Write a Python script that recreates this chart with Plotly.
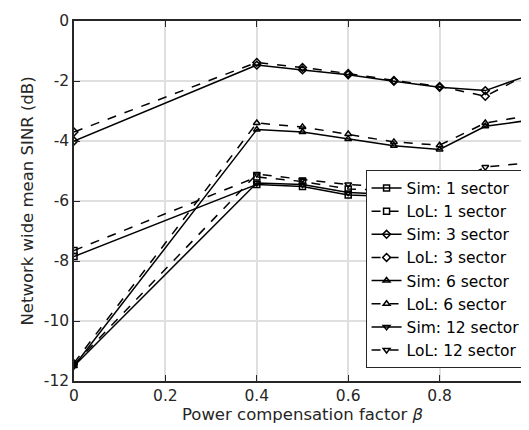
import plotly.graph_objects as go

beta = [0, 0.4, 0.5, 0.6, 0.7, 0.8, 0.9, 1.0]

sim_1 = [-7.85, -5.45, -5.52, -5.8, -5.85, -5.9, -5.5, -5.3]
lol_1 = [-7.65, -5.2, -5.35, -5.6, -5.65, -5.7, -5.3, -5.22]
sim_3 = [-4.0, -1.47, -1.63, -1.79, -2.01, -2.21, -2.32, -1.78]
lol_3 = [-3.7, -1.38, -1.55, -1.75, -1.98, -2.18, -2.51, -1.72]
sim_6 = [-11.5, -3.62, -3.7, -3.93, -4.16, -4.28, -3.51, -3.3]
lol_6 = [-11.4, -3.4, -3.53, -3.77, -4.03, -4.14, -3.4, -3.14]
sim_12 = [-11.5, -5.4, -5.45, -5.72, -5.78, -5.85, -5.12, -5.05]
lol_12 = [-11.45, -5.1, -5.28, -5.45, -5.55, -5.65, -4.87, -4.72]

series = [
    ("Sim: 1 sector", sim_1, "square-open", "solid"),
    ("LoL: 1 sector", lol_1, "square-open", "dash"),
    ("Sim: 3 sector", sim_3, "diamond-open", "solid"),
    ("LoL: 3 sector", lol_3, "diamond-open", "dash"),
    ("Sim: 6 sector", sim_6, "triangle-up-open", "solid"),
    ("LoL: 6 sector", lol_6, "triangle-up-open", "dash"),
    ("Sim: 12 sector", sim_12, "triangle-down-open", "solid"),
    ("LoL: 12 sector", lol_12, "triangle-down-open", "dash"),
]

xticks = [0, 0.2, 0.4, 0.6, 0.8, 1]
xticktext = ["0", "0.2", "0.4", "0.6", "0.8", "1"]
yticks = [0, -2, -4, -6, -8, -10, -12]
yticktext = ["0", "-2", "-4", "-6", "-8", "-10", "-12"]

FONT = "DejaVu Sans, sans-serif"
fig = go.Figure()
for name, vals, sym, dash in series:
    fig.add_trace(go.Scatter(
        x=beta, y=vals, name=name, mode="lines+markers",
        line=dict(color="black", width=1.5, dash=dash),
        marker=dict(symbol=sym, size=6, color="black", line=dict(width=1.5, color="black")),
    ))

axis_common = dict(
    showline=True, linecolor="#262626", linewidth=1.5, mirror="ticks",
    ticks="inside", ticklen=6, tickcolor="#262626",
    showgrid=True, gridcolor="#dfdfdf", gridwidth=1.5,
    zeroline=False, tickfont=dict(family=FONT, size=15.5, color="#262626"),
    ticklabeloverflow="allow",
)

fig.update_layout(
    width=529, height=430,
    margin=dict(l=66, r=1, t=13, b=57),
    paper_bgcolor="white", plot_bgcolor="white",
    font=dict(family=FONT, size=16, color="#262626"),
    xaxis=dict(range=[0, 1], tickvals=xticks, ticktext=xticktext,
               title=dict(text="Power compensation factor <i>β</i>", font=dict(size=16.5), standoff=4),
               **axis_common),
    yaxis=dict(range=[-12, 0], tickvals=yticks, ticktext=yticktext,
               title=dict(text="Network wide mean SINR (dB)", font=dict(size=16.5), standoff=6),
               **axis_common),
    legend=dict(x=0.638, y=0.585, xanchor="left", yanchor="top",
                bgcolor="white", bordercolor="#262626", borderwidth=1,
                font=dict(family=FONT, size=15.5, color="black"), tracegroupgap=0,
                itemwidth=30),
    showlegend=True,
)

fig.write_html("out.html")
